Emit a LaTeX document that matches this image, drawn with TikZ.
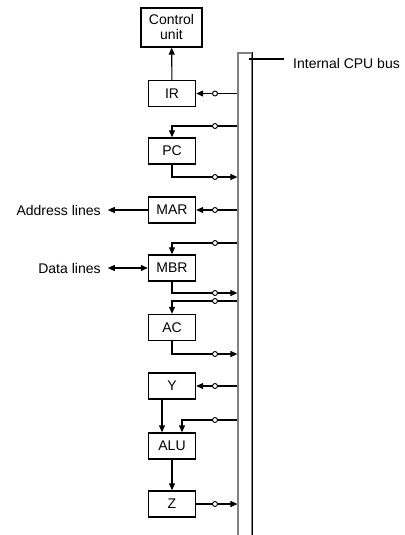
\documentclass[tikz,border=0pt]{standalone}
\usepackage{fontspec}
\setmainfont{Liberation Sans}
\usetikzlibrary{positioning,arrows.meta}

\begin{document}
\begin{tikzpicture}[x=1pt, y=-1pt,
  reg/.style={draw, rectangle, line width=1.4pt, minimum width=47pt, minimum height=26pt, inner sep=0pt, font=\fontsize{14}{15}\selectfont},
  arr/.style={-{Triangle[length=7pt,width=6pt]}, line width=1.1pt},
  darr/.style={{Triangle[length=7pt,width=6pt]}-{Triangle[length=7pt,width=6pt]}, line width=1.1pt},
  wire/.style={line width=1.1pt},
  sw/.style={draw, circle, line width=0.9pt, fill=white, inner sep=0pt, minimum size=5pt},
  lbl/.style={font=\fontsize{14}{15}\selectfont, inner sep=1pt}
]
\useasboundingbox (0,0) rectangle (404,535);

% Control unit and registers
\node[reg, minimum width=61pt, minimum height=39pt, align=center, text depth=2pt] (cu) at (171.5,27.5) {Control\\unit};
\node[reg] (ir)   at (172,93.5) {IR};
\node[reg] (pc)   at (172,151) {PC};
\node[reg] (mar)  at (172,210) {MAR};
\node[reg] (mbr)  at (172,268) {MBR};
\node[reg] (ac)   at (172,327.5) {AC};
\node[reg] (yreg) at (172,386) {Y};
\node[reg] (alu)  at (172,446) {ALU};
\node[reg] (zreg) at (172,504) {Z};

% Internal bus
\node[draw=gray, line width=1.2pt, minimum width=14pt, minimum height=494pt, inner sep=0pt] (bus) at (245,300) {};
\draw[line width=1.3pt] (bus.north east) -- (bus.south east);

% Labels
\node[lbl, anchor=west] (buslbl) at (292,63) {Internal CPU bus};
\node[lbl, left=46pt of mar] (addr) {Address lines};
\node[lbl, left=46pt of mbr] (data) {Data lines};

% Connectors
\draw[wire] ([xshift=-4pt,yshift=4pt]bus.east |- buslbl.west) -- ([xshift=-8pt,yshift=4pt]buslbl.west);
\draw[arr] (ir) -- (cu);
\draw[arr] (bus.west |- ir) -- (ir);
\draw[arr] (bus.west |- 0,126) -| (pc);
\draw[arr] (pc) |- (bus.west |- 0,177);
\draw[arr] (bus.west |- mar) -- (mar);
\draw[arr, shorten >=6pt] (mar) -- (addr);
\draw[darr, shorten <=6pt] (data) -- (mbr);
\draw[arr] (bus.west |- 0,243) -| (mbr);
\draw[arr] (mbr) |- (bus.west |- 0,293);
\draw[arr] (bus.west |- 0,301) -| (ac);
\draw[arr] (ac) |- (bus.west |- 0,354);
\draw[arr] (bus.west |- yreg) -- (yreg);
\draw[arr] ([xshift=-10pt]yreg.south) -- ([xshift=-10pt]alu.north);
\draw[arr] (bus.west |- 0,420) -| ([xshift=10pt]alu.north);
\draw[arr] (alu) -- (zreg);
\draw[arr] (zreg) -- (bus.west |- zreg);

% Switches
\foreach \sy in {93.5,126,177,210,243,293,301,354,386,420,504}
  \node[sw] at (215,\sy) {};

\end{tikzpicture}
\end{document}
